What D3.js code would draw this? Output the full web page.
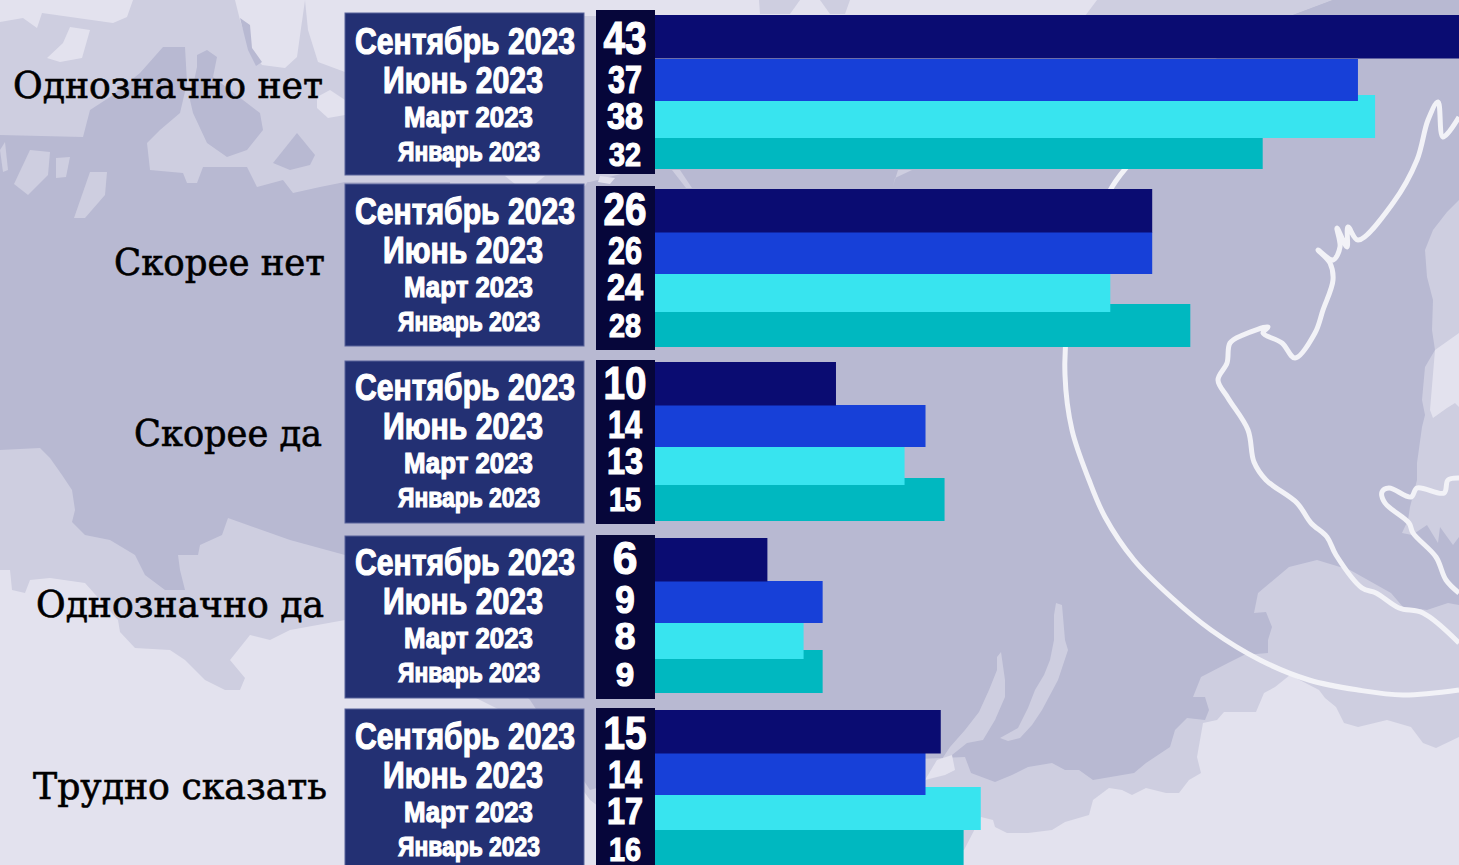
<!DOCTYPE html>
<html>
<head>
<meta charset="utf-8">
<script src="https://cdn.jsdelivr.net/npm/d3@7"></script>
<style>
  html, body { margin: 0; padding: 0; background: #e3e2ee; overflow: hidden; }
  svg { display: block; }
</style>
</head>
<body>
<div id="chart"></div>
<script>
// data (bar length decides the decimals, label is rounded)
const answers = ["Однозначно нет", "Скорее нет", "Скорее да", "Однозначно да", "Трудно сказать"];
const months = ["Сентябрь 2023", "Июнь 2023", "Март 2023", "Январь 2023"];
const sep2023 = [43, 26.1, 9.5, 5.9, 15];
const jun2023 = [36.9, 26.1, 14.2, 8.8, 14.2];
const mar2023 = [37.8, 23.9, 13.1, 7.8, 17.1];
const jan2023 = [31.9, 28.1, 15.2, 8.8, 16.2];
const seriesValues = [sep2023, jun2023, mar2023, jan2023];

// layout
const width = 1459, height = 865;
const barColors = ["#0a0c72", "#1740d8", "#38e4ef", "#00b8c0"];
const barHeights = [43.5, 42, 43, 43];
const x = d3.scaleLinear().domain([0, 10]).range([655, 845.5]);
const groupTop = d3.scaleOrdinal().domain(answers).range([15, 189, 362, 538, 710]);
const rowOffsets = [[0, 44, 80, 111], [0, 43, 80, 115], [0, 43, 80, 116], [0, 43, 78, 112], [0, 43, 77, 112]];
const panelTop = d3.scaleOrdinal().domain(answers).range([13, 184, 361, 536, 709]);
const numberTop = d3.scaleOrdinal().domain(answers).range([10, 186, 360, 535, 708]);
const answerPos = [[13, 98, 310], [114, 275, 211], [134, 446, 188], [36, 617, 288], [33, 799, 294]];
const monthRow = d3.scaleOrdinal().domain(months).range([40.5, 79.5, 114, 148]);
const monthNudge = [0, -1, -2, -2, -1];
const monthSize = d3.scaleOrdinal().domain(months).range([37, 37, 30, 28]);
const monthWidth = d3.scaleOrdinal().domain(months).range([220, 160, 129, 142]);
const monthCenter = d3.scaleOrdinal().domain(months).range([465, 463, 468.5, 469]);
const numberSize = [46, 39, 36, 34];
const numberWidth = [43, 34, 36, 32];
const numberRow = [40.5, 80, 116, 152.5];
const numberNudge = [3, -2, -2, -2, 0];

// background map outlines
const midLand = [[0,22],[23,18],[37,28],[42,13],[113,23],[127,17],[133,0],[235,0],[240,20],[250,50],[262,65],[285,68],[297,57],[305,0],[1459,0],[1459,605],[1459,737],[1436,748],[1423,743],[1411,727],[1387,720],[1358,727],[1344,723],[1336,707],[1325,698],[1319,690],[1290,675],[1275,687],[1264,693],[1256,712],[1224,712],[1217,720],[1203,723],[1197,757],[1201,773],[1189,780],[1179,793],[1166,793],[1146,788],[1132,795],[1122,790],[1109,788],[1093,800],[1089,815],[1065,822],[1052,830],[1028,833],[1007,833],[995,827],[993,820],[981,817],[964,850],[655,850],[590,800],[540,730],[470,695],[345,620],[290,630],[270,640],[250,635],[230,660],[245,678],[240,690],[225,690],[205,680],[185,660],[170,650],[135,648],[120,632],[118,620],[85,583],[50,578],[30,580],[25,593],[12,590],[10,570],[0,570]];
const lightTopRight = [[305,0],[308,30],[318,62],[345,72],[345,0]];
const lightTopStrip = [[345,0],[1097,0],[1085,16],[345,16]];
const darkLand = [[0,135],[83,137],[90,110],[110,97],[140,73],[163,47],[185,47],[187,83],[180,113],[160,130],[147,143],[150,170],[183,173],[187,183],[197,183],[203,167],[247,167],[257,187],[283,180],[293,193],[320,187],[345,182],[590,182],[655,165],[1090,130],[1293,15],[1333,0],[1459,0],[1459,200],[1447,212],[1433,230],[1425,250],[1427,277],[1433,300],[1432,330],[1435,350],[1425,367],[1422,400],[1425,415],[1422,427],[1417,463],[1417,480],[1410,507],[1408,520],[1402,533],[1412,535],[1427,525],[1438,543],[1440,527],[1453,545],[1459,537],[1459,605],[1448,603],[1427,610],[1403,607],[1391,593],[1350,570],[1317,560],[1289,567],[1258,593],[1254,613],[1266,612],[1272,627],[1268,640],[1268,653],[1244,655],[1228,663],[1201,677],[1193,697],[1205,697],[1209,710],[1205,720],[1187,718],[1175,730],[1170,747],[1146,763],[1134,773],[1093,780],[1079,770],[1065,770],[1052,763],[1028,767],[1012,775],[995,782],[971,773],[965,757],[660,770],[590,790],[530,700],[470,640],[345,555],[290,540],[228,518],[222,535],[200,545],[198,555],[178,555],[180,570],[185,590],[165,590],[145,575],[135,555],[110,540],[85,535],[72,522],[75,510],[72,490],[62,475],[50,458],[40,448],[0,450]];
const darkBlobs = [
  [[197,55],[207,50],[217,57],[213,77],[260,113],[263,130],[247,150],[227,157],[207,143],[193,113],[190,100],[197,67]],
  [[273,163],[297,133],[315,155],[310,165],[290,170]],
  [[240,18],[250,25],[252,48],[262,62],[256,66],[248,50]],
  [[1293,15],[1333,0],[1345,15]]
];
const midBlobs = [
  [[0,150],[5,142],[8,170],[3,172]],
  [[30,150],[50,152],[48,175],[28,195],[14,184]],
  [[56,158],[70,157],[66,177],[56,178]],
  [[90,172],[107,172],[105,195],[85,218],[74,218]],
  [[450,178],[590,178],[585,186],[450,186]],
  [[672,170],[680,170],[692,188],[686,188]],
  [[898,170],[912,170],[895,178],[893,186]],
  [[759,0],[800,0],[790,14],[760,14]],
  [[820,0],[850,0],[845,14],[830,14]],
  [[1056,603],[1062,605],[1065,640],[1068,650],[1063,665],[1058,680],[1050,695],[1042,710],[1032,725],[1020,738],[1008,741],[1000,738],[1018,728],[1028,708],[1035,690],[1044,675],[1050,660],[1054,640],[1054,615]],
  [[1001,652],[1005,680],[1005,697],[995,720],[983,740],[967,743],[952,755],[942,770],[925,778],[925,772],[938,765],[950,747],[965,730],[979,712],[989,690],[997,670],[997,657]]
];
const lightBlobs = [
  [[70,27],[90,30],[82,58],[60,62],[47,58],[63,43]],
  [[317,97],[330,90],[345,100],[345,115],[328,118],[317,108]],
  [[505,176],[545,176],[535,184],[515,184]],
  [[600,176],[615,178],[610,184],[598,182]],
  [[1459,333],[1435,350],[1430,410],[1433,418],[1447,408],[1455,403],[1459,407]],
  [[937,760],[952,755],[955,770],[945,775],[925,780]]
];
const circleLine = [[1133,160],[1112,187],[1085,250],[1068,320],[1065,375],[1072,430],[1089,480],[1105,517],[1134,560],[1171,597],[1211,630],[1260,660],[1309,680],[1358,690],[1403,695],[1459,690]];
const coastLine = [[1459,117],[1443,137],[1438,102],[1428,120],[1417,160],[1393,203],[1358,240],[1348,227],[1347,247],[1337,228],[1340,247],[1333,260],[1318,250],[1330,263],[1333,280],[1323,310],[1315,333],[1295,358],[1282,343],[1263,333],[1268,327],[1243,335],[1230,343],[1227,363],[1218,380],[1228,398],[1248,430],[1254,462],[1266,480],[1297,503],[1311,523],[1327,537],[1336,555],[1362,588],[1376,593],[1399,608],[1423,613],[1459,643]];
const innerLine = [[1459,593],[1446,580],[1436,557],[1413,533],[1409,523],[1385,503],[1382,492],[1389,488],[1411,497],[1417,488],[1444,493],[1448,480],[1459,478]];

const svg = d3.select("#chart").append("svg")
  .attr("width", width)
  .attr("height", height)
  .style("background", "#e3e2ee");

const area = d3.line().curve(d3.curveLinearClosed);
const bg = svg.append("g");
bg.append("path").attr("d", area(midLand)).attr("fill", "#cecee0");
bg.append("path").attr("d", area(lightTopRight)).attr("fill", "#e3e2ee");
bg.append("path").attr("d", area(lightTopStrip)).attr("fill", "#e3e2ee");
bg.append("path").attr("d", area(darkLand)).attr("fill", "#b8b9d2");
bg.selectAll(".dark").data(darkBlobs).enter().append("path").attr("d", area).attr("fill", "#b8b9d2");
bg.selectAll(".mid").data(midBlobs).enter().append("path").attr("d", area).attr("fill", "#cecee0");
bg.selectAll(".light").data(lightBlobs).enter().append("path").attr("d", area).attr("fill", "#e3e2ee");

const outline = d3.line().curve(d3.curveCatmullRom.alpha(0.5));
bg.selectAll(".outline").data([circleLine, coastLine, innerLine]).enter().append("path")
  .attr("d", outline)
  .attr("fill", "none")
  .attr("stroke", "#f2f2f7")
  .attr("stroke-width", 5)
  .attr("stroke-linejoin", "round");

answers.forEach((answer, i) => {
  const g = svg.append("g");

  // last series first so that the upper bars cover the lower ones
  const rows = months.map((m, j) => ({ month: m, value: seriesValues[j][i], j: j }));
  g.selectAll("rect.bar")
    .data(rows.slice().reverse())
    .enter()
    .append("rect")
      .attr("class", "bar")
      .attr("x", x(0))
      .attr("y", d => groupTop(answer) + rowOffsets[i][d.j])
      .attr("width", d => x(d.value) - x(0))
      .attr("height", d => barHeights[d.j])
      .attr("fill", d => barColors[d.j]);

  g.append("rect")
    .attr("x", 345).attr("y", panelTop(answer))
    .attr("width", 239).attr("height", 162)
    .attr("fill", "#233073").attr("stroke", "#59629a").attr("stroke-width", 1);

  g.append("rect")
    .attr("x", 596).attr("y", numberTop(answer))
    .attr("width", 59).attr("height", 164)
    .attr("fill", "#06063a");

  g.selectAll("text.month")
    .data(rows)
    .enter()
    .append("text")
      .attr("class", "month")
      .attr("x", d => monthCenter(d.month))
      .attr("y", d => panelTop(answer) + monthRow(d.month) + monthNudge[i])
      .attr("text-anchor", "middle")
      .attr("textLength", d => monthWidth(d.month))
      .attr("lengthAdjust", "spacingAndGlyphs")
      .style("font-family", "'Liberation Sans Narrow', 'Liberation Sans', sans-serif")
      .style("font-weight", 700)
      .style("font-size", d => monthSize(d.month) + "px")
      .style("fill", "#fff")
      .style("stroke", "#fff")
      .style("stroke-width", "1.2px")
      .text(d => d.month);

  g.selectAll("text.number")
    .data(rows)
    .enter()
    .append("text")
      .attr("class", "number")
      .attr("x", 625)
      .attr("y", d => numberTop(answer) + numberRow[d.j] + numberNudge[i])
      .attr("text-anchor", "middle")
      .attr("textLength", d => numberWidth[d.j] * String(Math.round(d.value)).length / 2 * (Math.round(d.value) < 10 ? 1.15 : 1))
      .attr("lengthAdjust", "spacingAndGlyphs")
      .style("font-family", "'Liberation Sans Narrow', 'Liberation Sans', sans-serif")
      .style("font-weight", 700)
      .style("font-size", d => numberSize[d.j] + "px")
      .style("fill", "#fff")
      .style("stroke", "#fff")
      .style("stroke-width", "1.2px")
      .text(d => Math.round(d.value));

  g.append("text")
    .attr("x", answerPos[i][0])
    .attr("y", answerPos[i][1])
    .attr("textLength", answerPos[i][2])
    .attr("lengthAdjust", "spacingAndGlyphs")
    .style("font-family", "'DejaVu Serif Condensed', 'DejaVu Serif', serif")
    .style("font-stretch", "condensed")
    .style("font-size", "38px")
    .style("fill", "#000")
    .style("stroke", "#000")
    .style("stroke-width", "0.6px")
    .text(answer);
});
</script>
</body>
</html>
